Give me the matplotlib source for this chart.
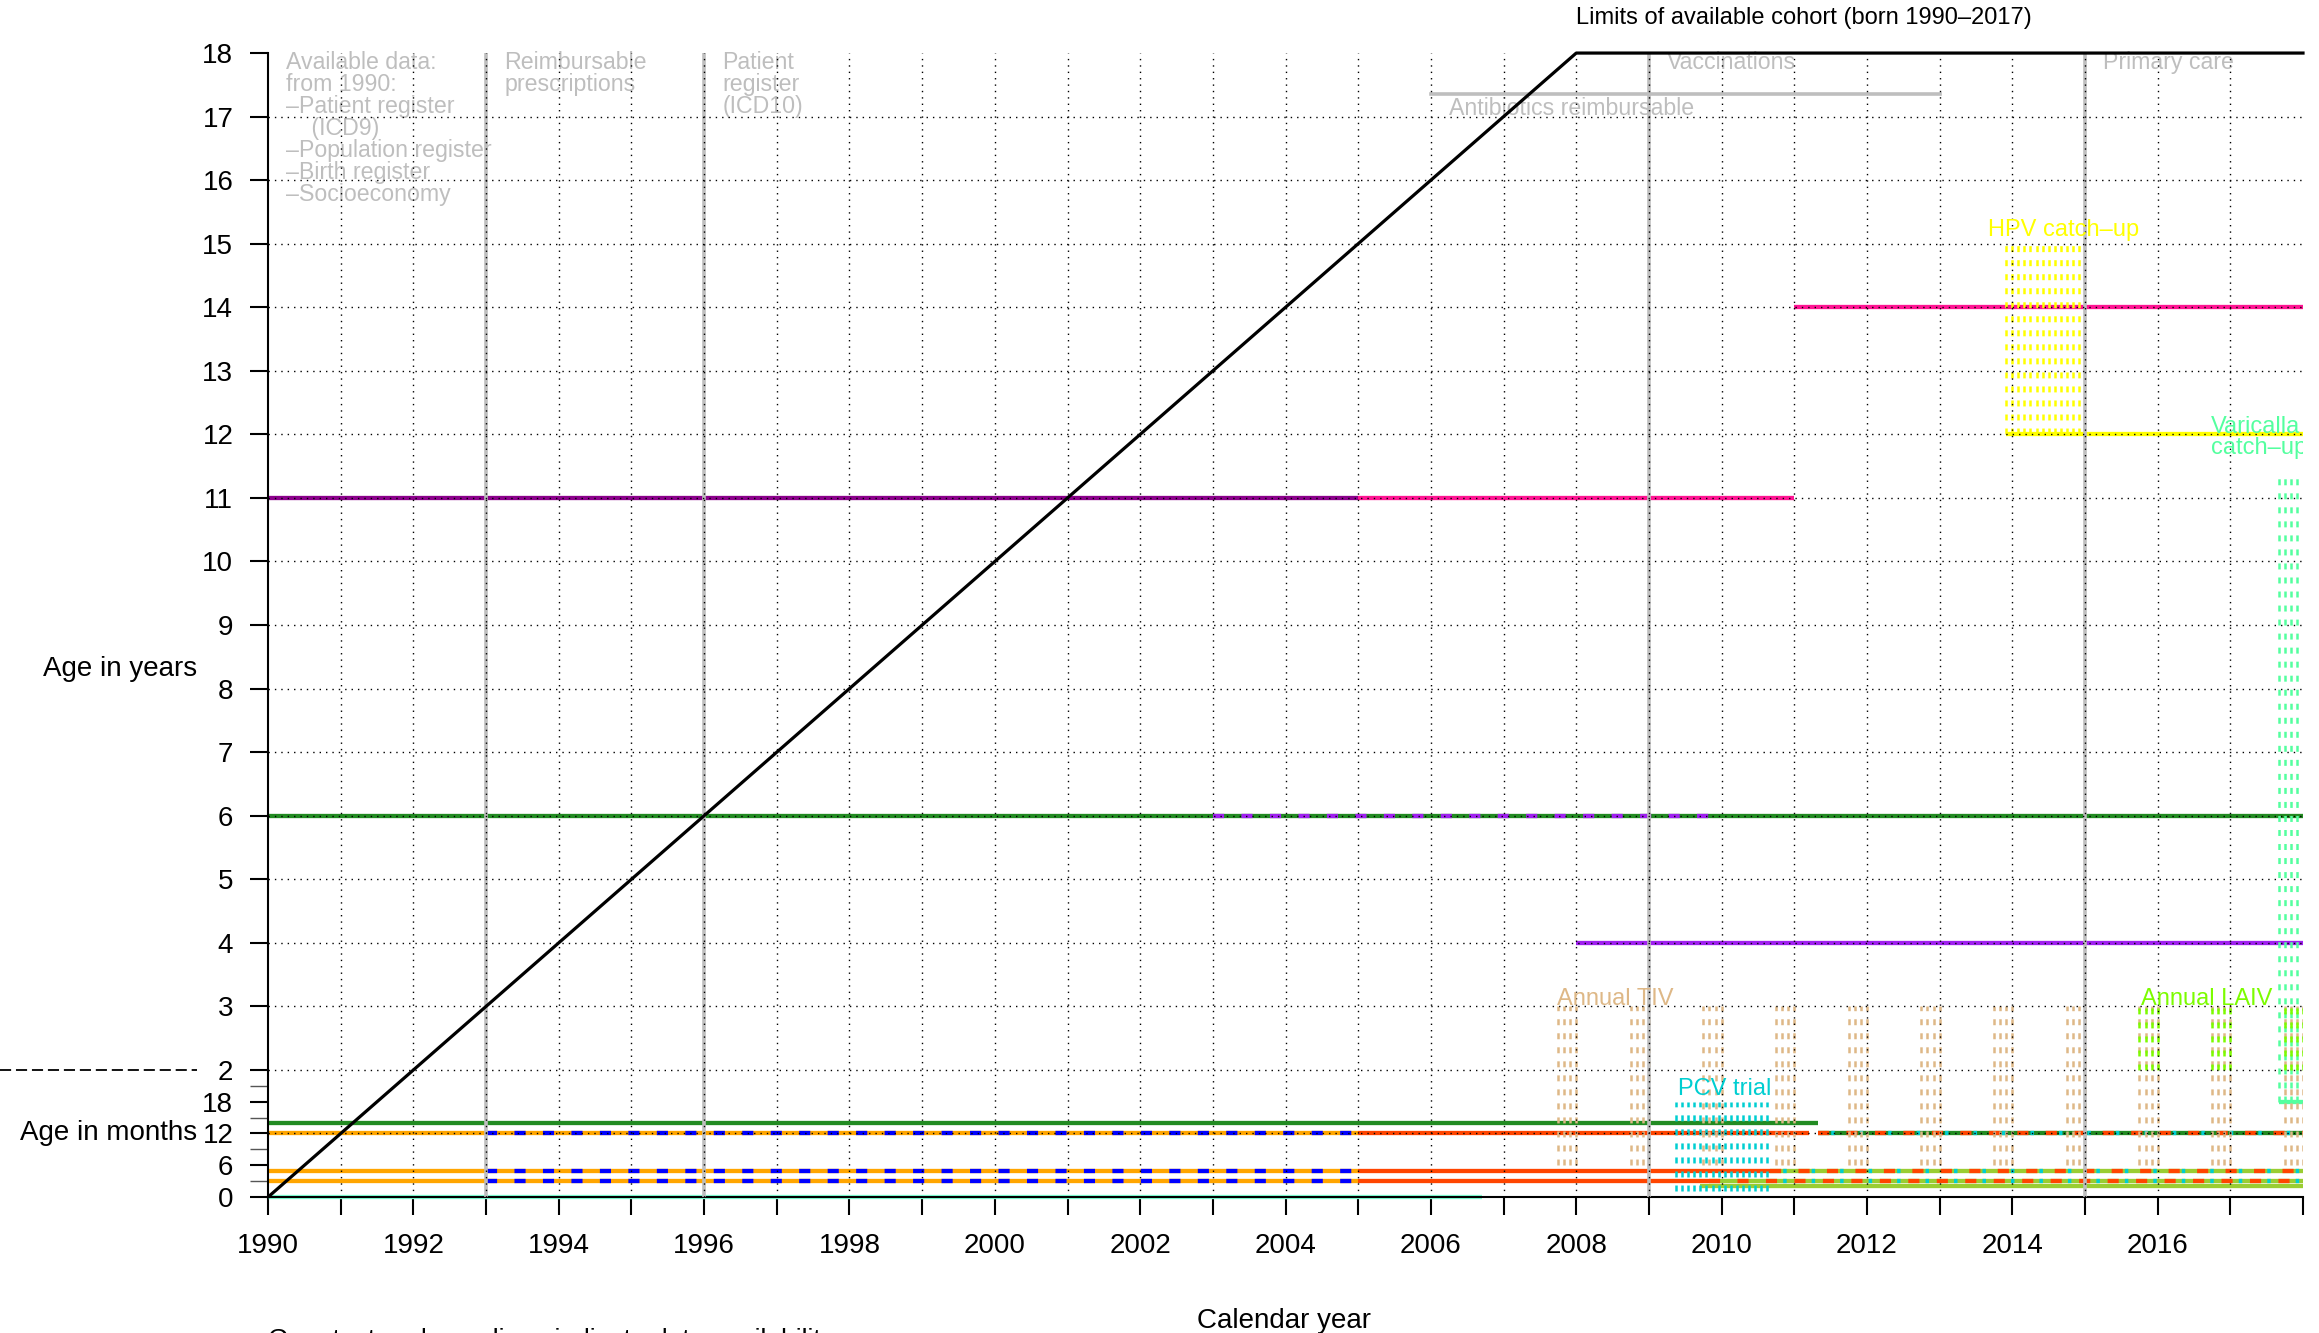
import numpy as np
import matplotlib
matplotlib.use('Agg')
from matplotlib import pyplot as plt
from matplotlib.transforms import blended_transform_factory

plt.rcParams['font.family'] = ['Liberation Sans', 'DejaVu Sans']
plt.rcParams['lines.scale_dashes'] = False

GREY = '#BEBEBE'

# birth cohort limits (born 1990-2017)
cohort_x = [1990, 2008, 2018]
cohort_y = [0, 18, 18]

# data availability (grey)
avail_years = [1993, 1996, 2009, 2015]
avail_labels = ['Reimbursable\nprescriptions', 'Patient\nregister\n(ICD10)',
                'Vaccinations', 'Primary care']
base_label = ('Available data:\nfrom 1990:\n\u2013Patient register\n    (ICD9)\n'
              '\u2013Population register\n\u2013Birth register\n\u2013Socioeconomy')
abx_years = [2006, 2013]
abx_age = 17.35

# programme lines: (age in years, from, to, colour)
solid_lines = [
    (0.0, 1990, 2006.7, '#7FFFD4'),
    (14 / 12, 1990, 2011.33, '#228B22'),
    (12 / 12, 1990, 2005, '#FFA500'),
    (5 / 12, 1990, 2005, '#FFA500'),
    (3 / 12, 1990, 2005, '#FFA500'),
    (12 / 12, 2005, 2011.2, '#FF4500'),
    (5 / 12, 2005, 2010.67, '#FF4500'),
    (3 / 12, 2005, 2009.83, '#FF4500'),
    (12 / 12, 2011.33, 2018, '#228B22'),
    (5 / 12, 2010.67, 2018, '#9ACD32'),
    (3 / 12, 2009.83, 2018, '#9ACD32'),
    (2 / 12, 2009.7, 2018, '#9ACD32'),
    (6, 1990, 2018, '#228B22'),
    (4, 2008, 2018, '#A020F0'),
    (11, 1990, 2005, '#8B008B'),
    (11, 2005, 2011, '#FF1493'),
    (14, 2011, 2018, '#FF1493'),
    (12, 2013.92, 2018, '#FFFF00'),
    (1.5, 2017.67, 2018, '#54FF9F'),
]
dashed_lines = [
    (12 / 12, 1993, 2005, '#0000FF'),
    (5 / 12, 1993, 2005, '#0000FF'),
    (3 / 12, 1993, 2005, '#0000FF'),
    (6, 2003, 2010, '#A020F0'),
    (12 / 12, 2011.33, 2018, '#FF4500'),
    (5 / 12, 2010.67, 2018, '#FF4500'),
    (3 / 12, 2009.83, 2018, '#FF4500'),
]
dotted_lines = [
    (12 / 12, 2011.33, 2018, '#00CED1'),
    (5 / 12, 2010.67, 2018, '#00CED1'),
    (3 / 12, 2010.67, 2018, '#00CED1'),
]

# campaigns drawn as monthly vertical dashes
flu_seasons_tiv = [2007, 2008, 2009, 2010, 2011, 2012, 2013, 2014, 2015, 2016, 2017]
flu_seasons_laiv = [2015, 2016, 2017]
flu_months = [0.75, 0.833, 0.917, 1.0]
pcv_months = (2009.375, 2010.625)
hpv_months = (2013.917, 2014.917)
vzv_months = (2017.667, 2017.917)

campaign_labels = [
    ('Annual TIV', 2008.53, 3.12, '#DEB887', 'center'),
    ('PCV trial', 2010.04, 1.70, '#00CED1', 'center'),
    ('HPV catch\u2013up', 2014.70, 15.21, '#FFFF00', 'center'),
    ('Annual LAIV', 2016.67, 3.12, '#7CFC00', 'center'),
    ('Varicalla\ncatch\u2013up', 2016.73, 11.95, '#54FF9F', 'left'),
]


def monthly(first, last):
    return np.arange(first, last + 0.01, 1 / 12)


fig = plt.figure(figsize=(23.19, 13.33), dpi=100)
ax = fig.add_axes([0.1156, 0.1020, 0.8775, 0.8582])
ax.set_xlim(1990, 2018)
ax.set_ylim(0, 18)

for age, x0, x1, col in solid_lines:
    ax.plot([x0, x1], [age, age], color=col, lw=3.1, zorder=2,
            solid_capstyle='butt', clip_on=False)
for age, x0, x1, col in dashed_lines:
    ax.plot([x0, x1], [age, age], color=col, lw=3.1, zorder=2.1,
            dashes=(8, 12.5), dash_capstyle='butt')
for age, x0, x1, col in dotted_lines:
    ax.plot([x0, x1], [age, age], color=col, lw=3.1, zorder=2.2,
            dashes=(0, 9.5, 2.5, 8.5), dash_capstyle='butt')

vdash = (0, (4.3, 5.8))
tiv_x = [s + m for s in flu_seasons_tiv for m in flu_months]
laiv_x = [s + m for s in flu_seasons_laiv for m in flu_months]
ax.vlines(tiv_x, 0.5, 3, colors='#DEB887', linestyles=vdash, lw=1.8, zorder=2.5)
ax.vlines(laiv_x, 2, 3, colors='#7CFC00', linestyles=vdash, lw=1.8, zorder=2.6)
ax.vlines(monthly(*pcv_months), 0.1, 1.5, colors='#00CED1', linestyles=vdash, lw=1.8, zorder=2.5)
ax.vlines(monthly(*hpv_months), 12, 15, colors='#FFFF00', linestyles=vdash, lw=1.8, zorder=2.5)
ax.vlines(monthly(*vzv_months), 1.5, 11.33, colors='#54FF9F', linestyles=vdash, lw=1.8, zorder=2.5)

for txt, x, y, col, ha in campaign_labels:
    ax.text(x, y, txt, color=col, fontsize=17, ha=ha, va='center',
            linespacing=0.95, zorder=6, clip_on=True)

# grey data availability markers
ax.vlines(avail_years, 0, 18, colors=GREY, lw=2.6, zorder=3)
ax.plot(abx_years, [abx_age, abx_age], color=GREY, lw=2.6, zorder=3)
ax.text(abx_years[0] + 0.25, 17.12, 'Antibiotics reimbursable', color=GREY,
        fontsize=16.7, ha='left', va='center', zorder=3)
ax.text(1990.25, 18.04, base_label, color=GREY, fontsize=16.7, ha='left',
        va='top', linespacing=0.95, zorder=3)
for yr, lab in zip(avail_years, avail_labels):
    ax.text(yr + 0.25, 18.04, lab, color=GREY, fontsize=16.7, ha='left',
            va='top', linespacing=0.95, zorder=3)

# dotted grid
ax.hlines(range(1, 18), 1990, 2018, colors='black', linestyles=(0, (1, 3.6)), lw=1.0, zorder=4)
ax.vlines(range(1991, 2018), 0, 18, colors='black', linestyles=(0, (1, 3.6)), lw=1.0, zorder=4)

# cohort limits
ax.plot(cohort_x, cohort_y, color='black', lw=2.3, zorder=5, clip_on=False)
ax.text(2008, 18.55, 'Limits of available cohort (born 1990\u20132017)',
        fontsize=17, ha='left', va='center', clip_on=False)

# axes
for s in ['top', 'right']:
    ax.spines[s].set_visible(False)
ax.spines['left'].set_linewidth(1.5)
ax.spines['bottom'].set_linewidth(1.5)
ax.set_xticks(range(1990, 2019))
ax.set_xticklabels([str(y) if y % 2 == 0 and y < 2018 else '' for y in range(1990, 2019)])
ax.set_yticks([0, 0.5, 1, 1.5] + list(range(2, 19)))
ax.set_yticklabels(['0', '6', '12', '18'] + [str(a) for a in range(2, 19)])
ax.set_yticks([0.25, 0.75, 1.25, 1.75], minor=True)
ax.tick_params(axis='both', which='major', length=13, width=1.5, labelsize=20)
ax.tick_params(axis='x', pad=13)
ax.tick_params(axis='y', pad=12)
ax.tick_params(axis='y', which='minor', length=13, width=1.0, color='#555555')

trans = blended_transform_factory(fig.transFigure, ax.transData)
ax.plot([0, 0.085], [2, 2], color='black', lw=1.3, dashes=(8, 3.5),
        transform=trans, clip_on=False)
ax.text(0.085, 8.31, 'Age in years', fontsize=20, ha='right', va='center', transform=trans)
ax.text(0.085, 1.0, 'Age in months', fontsize=20, ha='right', va='center', transform=trans)

fig.text(0.5537, 0.004, 'Calendar year', fontsize=20, ha='center', va='baseline')
fig.text(0.1156, -0.0105, 'Grey text and grey lines indicate data availability',
         fontsize=19, ha='left', va='baseline')

fig.savefig('out.png', dpi=100)
